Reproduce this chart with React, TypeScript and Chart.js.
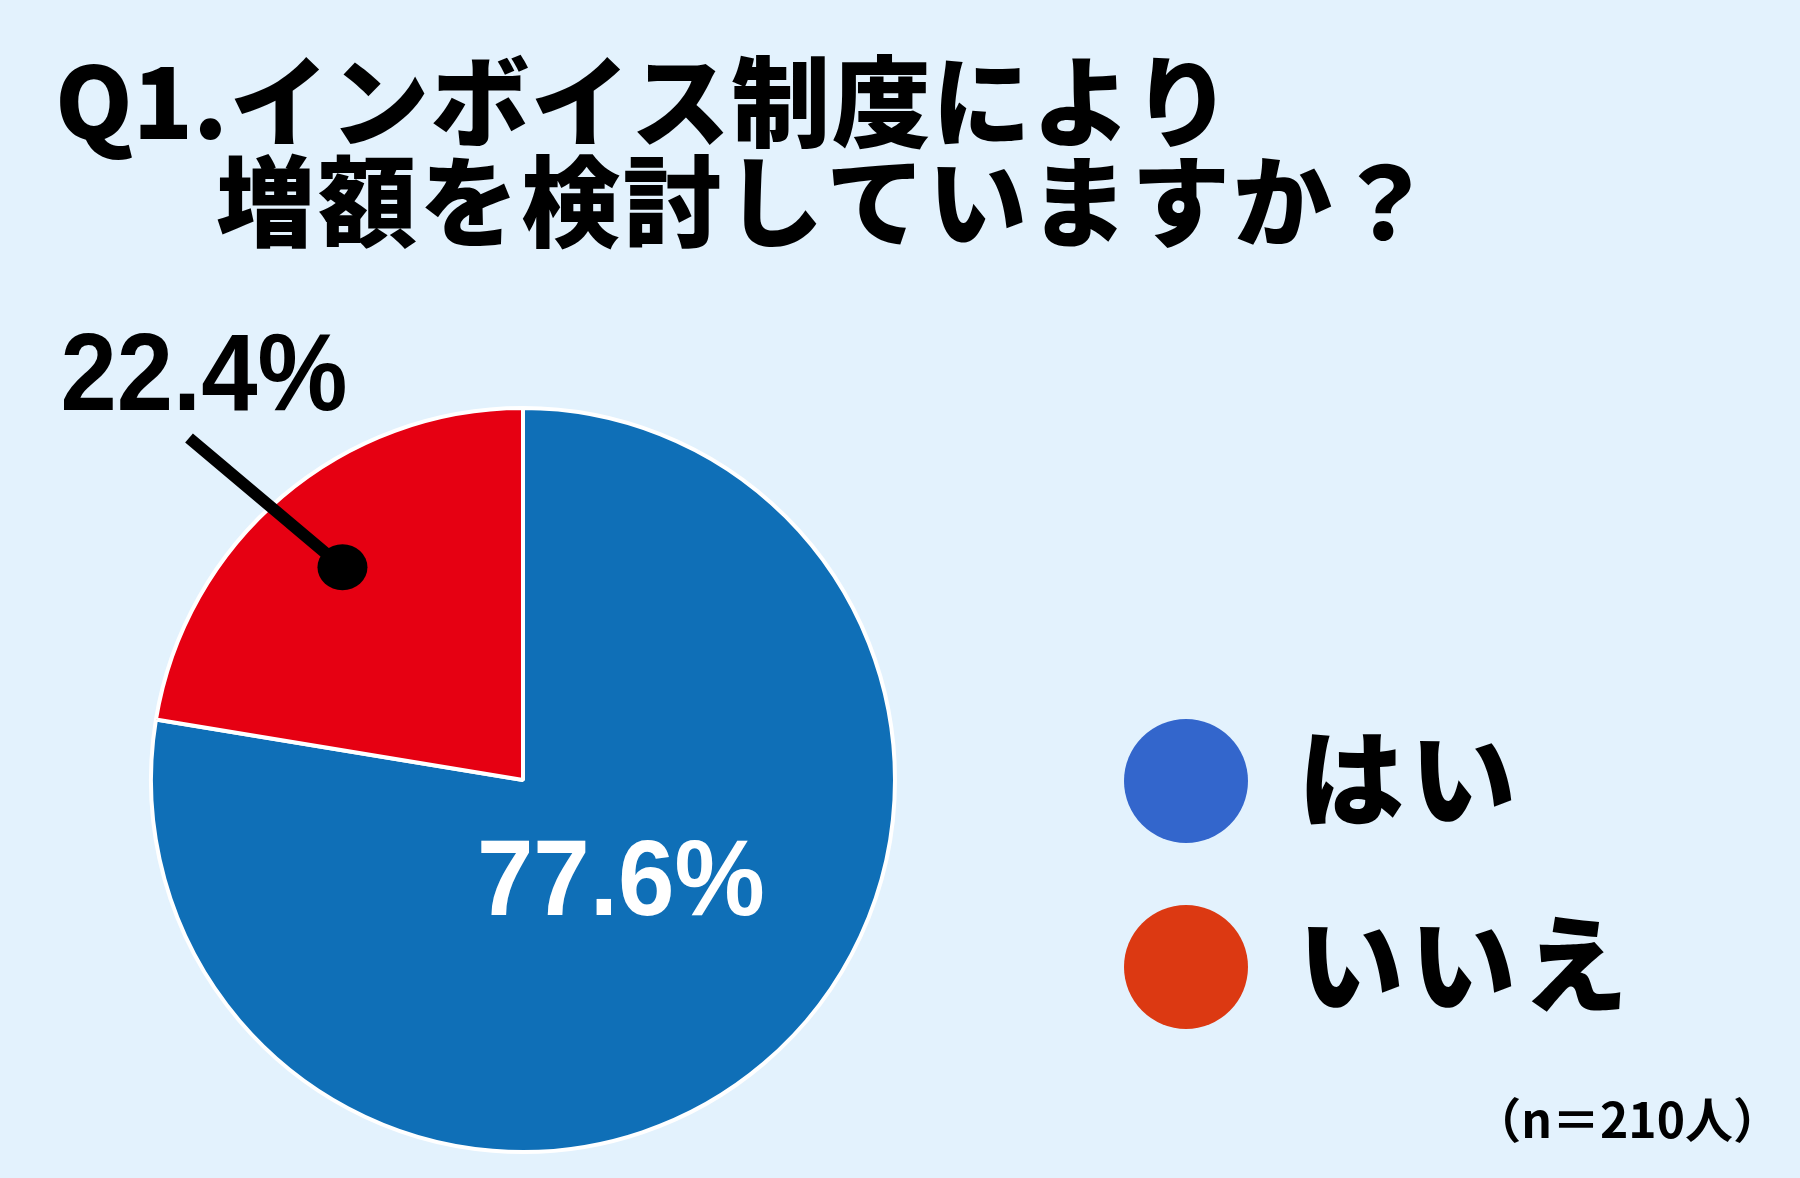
import React, { useEffect, useRef } from 'react';
import { Chart, registerables } from 'chart.js';

Chart.register(...registerables);

const categories = ['はい', 'いいえ'];
const shares = [77.6, 22.4];
const sliceColors = ['#0F6FB7', '#E60012'];
const legendColors = ['#3366CC', '#DC3912'];
const titleLines = ['Q1.インボイス制度により', '増額を検討していますか？'];
const sampleNote = '（n＝210人）';

const W = 1800;
const H = 1178;
const BG = '#E3F2FD';
const JP = '"Noto Sans CJK JP", "Noto Sans", sans-serif';
const NUM = '"Liberation Sans", Arial, sans-serif';

function drawScaledText(ctx: CanvasRenderingContext2D, text: string, cx: number, baseline: number, sx: number) {
  ctx.save();
  ctx.translate(cx, baseline);
  ctx.scale(sx, 1);
  ctx.textAlign = 'center';
  ctx.textBaseline = 'alphabetic';
  ctx.fillText(text, 0, 0);
  ctx.restore();
}

const overlayPlugin = {
  id: 'overlay',
  beforeDraw(chart: any) {
    const ctx = chart.ctx as CanvasRenderingContext2D;
    ctx.save();
    ctx.fillStyle = BG;
    ctx.fillRect(0, 0, chart.width, chart.height);
    ctx.restore();
  },
  afterDraw(chart: any) {
    const ctx = chart.ctx as CanvasRenderingContext2D;
    const arcs = chart.getDatasetMeta(0).data;

    // Title
    ctx.save();
    ctx.fillStyle = '#000';
    ctx.textAlign = 'left';
    ctx.textBaseline = 'middle';
    ctx.font = `900 99px ${JP}`;
    (ctx as any).letterSpacing = '0px';
    ctx.fillText('Q1.', 55, 101);
    const q1w = ctx.measureText('Q1.').width;
    (ctx as any).letterSpacing = '1.3px';
    ctx.fillText(titleLines[0].slice(3), 55 + q1w + 2, 101);
    (ctx as any).letterSpacing = '2.7px';
    ctx.fillText(titleLines[1], 216, 201);
    ctx.restore();

    // Value labels
    arcs.forEach((arc: any, i: number) => {
      const p = arc.getProps(['x', 'y', 'startAngle', 'endAngle', 'outerRadius'], true);
      const R = p.outerRadius;
      const mid = (p.startAngle + p.endAngle) / 2;
      const text = `${shares[i].toFixed(1)}%`;
      ctx.save();
      if (i === 0) {
        ctx.fillStyle = '#FFFFFF';
        ctx.font = `bold 108px ${NUM}`;
        drawScaledText(ctx, text, p.x + 0.263 * R, p.y + 0.363 * R, 0.94);
      } else {
        const dx = p.x + Math.cos(mid) * 0.75 * R;
        const dy = p.y + Math.sin(mid) * 0.75 * R;
        const a2 = mid - (4.0 * Math.PI) / 180;
        const ex = p.x + Math.cos(a2) * 1.285 * R;
        const ey = p.y + Math.sin(a2) * 1.285 * R;
        ctx.strokeStyle = '#000';
        ctx.lineWidth = 12;
        ctx.lineCap = 'butt';
        ctx.beginPath();
        ctx.moveTo(dx, dy);
        ctx.lineTo(ex, ey);
        ctx.stroke();
        ctx.fillStyle = '#000';
        ctx.beginPath();
        ctx.ellipse(dx, dy, 25, 23, 0, 0, Math.PI * 2);
        ctx.fill();
        ctx.font = `bold 110px ${NUM}`;
        drawScaledText(ctx, text, ex + 15, ey - 28, 0.92);
      }
      ctx.restore();
    });

    // Legend
    const legendX = 1186;
    const legendY0 = 781;
    const legendGap = 186;
    categories.forEach((label, i) => {
      const cy = legendY0 + i * legendGap;
      ctx.save();
      ctx.fillStyle = legendColors[i];
      ctx.beginPath();
      ctx.arc(legendX, cy, 62, 0, Math.PI * 2);
      ctx.fill();
      ctx.fillStyle = '#000';
      ctx.font = `900 106px ${JP}`;
      (ctx as any).letterSpacing = '6px';
      ctx.textAlign = 'left';
      ctx.textBaseline = 'middle';
      ctx.fillText(label, 1298, cy - 3);
      ctx.restore();
    });

    // Sample size note
    ctx.save();
    ctx.fillStyle = '#000';
    ctx.font = `bold 48px ${JP}`;
    ctx.textAlign = 'right';
    ctx.textBaseline = 'middle';
    ctx.fillText(sampleNote, 1781, 1120);
    ctx.restore();
  },
};

export default function App() {
  const canvasRef = useRef<HTMLCanvasElement | null>(null);

  useEffect(() => {
    document.body.style.margin = '0';
    document.body.style.background = BG;
    const canvas = canvasRef.current;
    if (!canvas) return;
    const chart = new Chart(canvas, {
      type: 'pie',
      data: {
        labels: categories,
        datasets: [
          {
            data: shares,
            backgroundColor: sliceColors,
            borderColor: '#FFFFFF',
            borderWidth: 4,
          },
        ],
      },
      options: {
        responsive: false,
        animation: false,
        devicePixelRatio: 1,
        events: [],
        layout: { padding: { left: 149, right: 903, top: 406, bottom: 24 } },
        plugins: {
          legend: { display: false },
          tooltip: { enabled: false },
          title: { display: false },
        },
      },
      plugins: [overlayPlugin],
    });
    return () => chart.destroy();
  }, []);

  return (
    <div style={{ position: 'fixed', left: 0, top: 0, width: W, height: H, background: BG }}>
      <canvas ref={canvasRef} width={W} height={H} style={{ width: W, height: H, display: 'block' }} />
    </div>
  );
}
